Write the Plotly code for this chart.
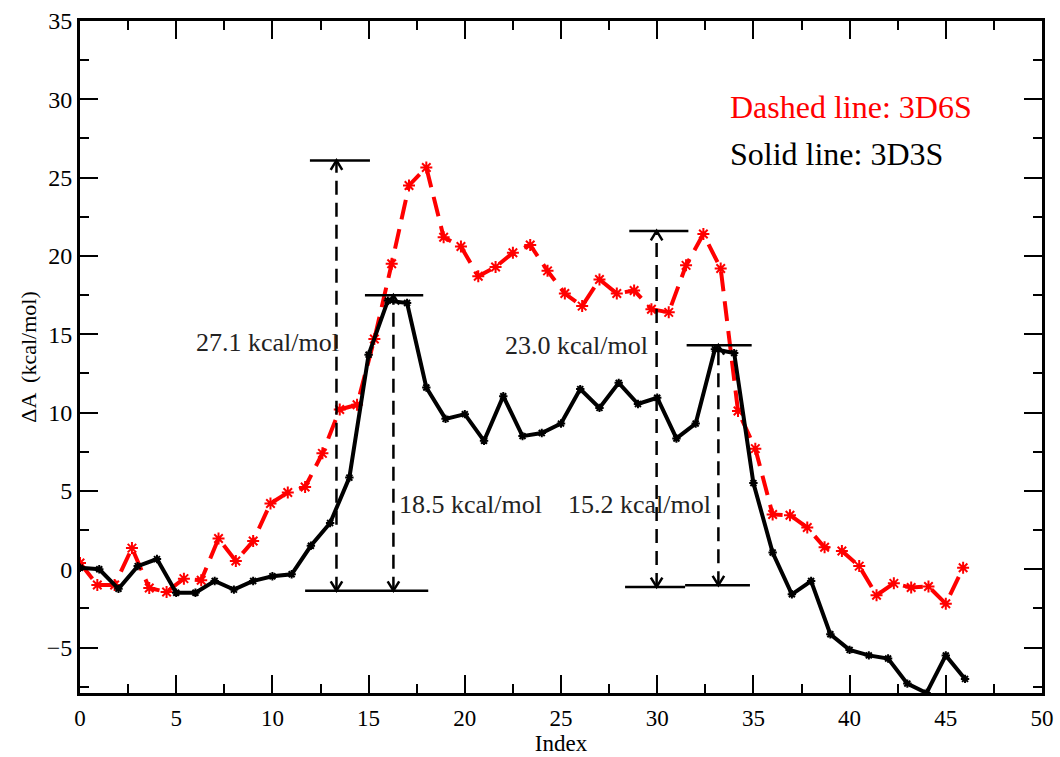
import plotly.graph_objects as go

# ---- data ----
black_x = list(range(47))
black_y = [0.1, 0.0, -1.25, 0.2, 0.65, -1.5, -1.5, -0.75, -1.3, -0.75,
           -0.45, -0.32, 1.5, 2.95, 5.85, 13.7, 17.15, 17.0, 11.6, 9.6,
           9.9, 8.2, 11.05, 8.5, 8.7, 9.3, 11.5, 10.3, 11.9, 10.55,
           10.95, 8.35, 9.3, 14.05, 13.8, 5.5, 1.07, -1.6, -0.75, -4.15,
           -5.15, -5.5, -5.7, -7.3, -7.9, -5.5, -7.0]

red_step = 0.9
red_y = [0.4, -1.0, -1.0, 1.35, -1.2, -1.45, -0.6, -0.7, 1.96, 0.53,
         1.8, 4.2, 4.9, 5.25, 7.4, 10.2, 10.5, 14.7, 19.5, 24.5,
         25.65, 21.2, 20.6, 18.7, 19.3, 20.2, 20.7, 19.05, 17.6, 16.8,
         18.5, 17.6, 17.8, 16.6, 16.4, 19.4, 21.4, 19.2, 10.1, 7.7,
         3.5, 3.45, 2.66, 1.4, 1.17, 0.2, -1.66, -0.9, -1.17, -1.1,
         -2.2, 0.1]
red_x = [round(i * red_step, 2) for i in range(len(red_y))]

# barrier annotations
arrow_x = [13.33, 16.29, 29.97, 33.18]
arrow_top = [26.1, 17.5, 21.6, 14.3]
arrow_bottom = [-1.37, -1.37, -1.13, -1.02]
top_bar_x0 = [11.95, 14.81, 28.55, 31.53]
top_bar_x1 = [15.07, 17.84, 31.62, 34.91]
bottom_bar_x0 = [11.7, 28.33, 31.45]
bottom_bar_x1 = [18.1, 31.45, 34.82]
bottom_bar_y = [-1.37, -1.13, -1.02]
labels = ["27.1 kcal/mol", "18.5 kcal/mol", "23.0 kcal/mol", "15.2 kcal/mol"]
label_x = [9.75, 20.3, 25.8, 29.08]
label_y = [14.5, 4.15, 14.26, 4.15]

legend_texts = ["Dashed line: 3D6S", "Solid line: 3D3S"]
legend_colors = ["#ff0000", "#000000"]
legend_x = [33.68, 33.68]
legend_y = [29.5, 26.5]

FONT = "Liberation Serif"

fig = go.Figure()
fig.add_trace(go.Scatter(
    x=red_x, y=red_y, mode="lines+markers",
    line=dict(color="#ff0000", width=4, dash="20px,10px"),
    marker=dict(symbol="asterisk-open", size=10, color="#ff0000",
                line=dict(color="#ff0000", width=2)),
    showlegend=False))
fig.add_trace(go.Scatter(
    x=black_x, y=black_y, mode="lines+markers",
    line=dict(color="#000000", width=4),
    marker=dict(symbol="asterisk-open", size=7, color="#000000",
                line=dict(color="#000000", width=2)),
    showlegend=False))

shapes = []
hw, hh = 0.3, 0.6  # chevron half-width (x units), height (y units)
for xa, yt, yb in zip(arrow_x, arrow_top, arrow_bottom):
    shapes.append(dict(type="line", xref="x", yref="y", x0=xa, x1=xa, y0=yb, y1=yt,
                       line=dict(color="black", width=2.5, dash="14px,8px")))
    shapes.append(dict(type="path", xref="x", yref="y",
                       path=f"M{xa-hw},{yt-hh} L{xa},{yt} L{xa+hw},{yt-hh}",
                       line=dict(color="black", width=2.5)))
    shapes.append(dict(type="path", xref="x", yref="y",
                       path=f"M{xa-hw},{yb+hh} L{xa},{yb} L{xa+hw},{yb+hh}",
                       line=dict(color="black", width=2.5)))
for x0, x1, y in zip(top_bar_x0, top_bar_x1, arrow_top):
    shapes.append(dict(type="line", xref="x", yref="y", x0=x0, x1=x1, y0=y, y1=y,
                       line=dict(color="black", width=2.5)))
for x0, x1, y in zip(bottom_bar_x0, bottom_bar_x1, bottom_bar_y):
    shapes.append(dict(type="line", xref="x", yref="y", x0=x0, x1=x1, y0=y, y1=y,
                       line=dict(color="black", width=2.5)))

annotations = []
for t, x, y in zip(labels, label_x, label_y):
    annotations.append(dict(text=t, x=x, y=y, xref="x", yref="y", showarrow=False,
                            xanchor="center", yanchor="middle",
                            font=dict(family=FONT, size=26, color="#222222")))
for t, c, x, y in zip(legend_texts, legend_colors, legend_x, legend_y):
    annotations.append(dict(text=t, x=x, y=y, xref="x", yref="y", showarrow=False,
                            xanchor="left", yanchor="middle",
                            font=dict(family=FONT, size=32, color=c)))

axis_common = dict(
    showline=True, linecolor="black", linewidth=3, mirror="allticks",
    ticks="inside", ticklen=18, tickwidth=2, tickcolor="black",
    showgrid=False, zeroline=False, automargin=False,
    minor=dict(ticks="inside", ticklen=9, tickwidth=2, tickcolor="black", dtick=2.5),
)

fig.update_layout(
    width=1060, height=757,
    margin=dict(l=80, r=18, t=21, b=64),
    paper_bgcolor="white", plot_bgcolor="white",
    shapes=shapes, annotations=annotations,
    xaxis=dict(range=[0, 50], dtick=5, tick0=0, ticklabelstandoff=2,
               tickfont=dict(family=FONT, size=23, color="black"),
               title=dict(text="Index", font=dict(family=FONT, size=23, color="black"),
                          standoff=5),
               **axis_common),
    yaxis=dict(range=[-7.9, 35], dtick=5, tick0=0,
               tickfont=dict(family=FONT, size=24, color="black"),
               title=dict(text="ΔA  (kcal/mol)", font=dict(family=FONT, size=22, color="black"),
                          standoff=4),
               **axis_common),
)

fig.write_html("out.html")
